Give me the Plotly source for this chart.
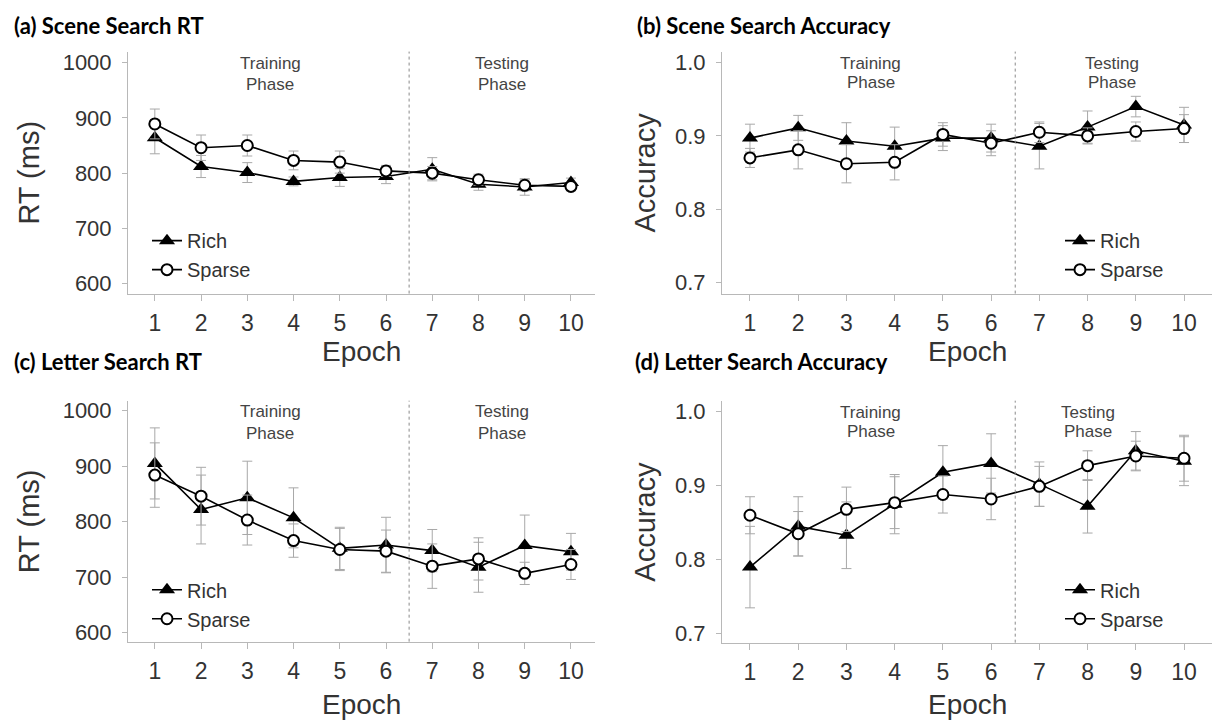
import plotly.graph_objects as go

# ---- data -------------------------------------------------------------
epochs = [1, 2, 3, 4, 5, 6, 7, 8, 9, 10]

scene_rt_rich = [864, 812, 801, 785, 792, 794, 807, 780, 775, 783]
scene_rt_rich_err = [29, 20, 18, 8, 16, 13, 21, 11, 15, 8]
scene_rt_sparse = [889, 846, 850, 823, 820, 804, 800, 788, 778, 776]
scene_rt_sparse_err = [27, 23, 19, 17, 20, 10, 12, 10, 10, 8]

scene_acc_rich = [0.897, 0.911, 0.893, 0.886, 0.897, 0.897, 0.886, 0.912, 0.940, 0.915]
scene_acc_rich_err = [0.019, 0.017, 0.025, 0.026, 0.017, 0.019, 0.031, 0.022, 0.014, 0.024]
scene_acc_sparse = [0.870, 0.881, 0.862, 0.864, 0.902, 0.890, 0.905, 0.900, 0.906, 0.910]
scene_acc_sparse_err = [0.013, 0.026, 0.026, 0.024, 0.016, 0.017, 0.014, 0.011, 0.013, 0.019]

letter_rt_rich = [905, 822, 843, 807, 752, 758, 748, 718, 757, 746]
letter_rt_rich_err = [64, 62, 66, 54, 38, 50, 38, 45, 55, 33]
letter_rt_sparse = [884, 846, 803, 766, 750, 747, 720, 733, 707, 723]
letter_rt_sparse_err = [58, 52, 45, 30, 38, 38, 40, 38, 20, 27]

letter_acc_rich = [0.790, 0.845, 0.833, 0.875, 0.918, 0.930, 0.902, 0.872, 0.947, 0.933]
letter_acc_rich_err = [0.055, 0.040, 0.045, 0.040, 0.036, 0.040, 0.030, 0.036, 0.026, 0.033]
letter_acc_sparse = [0.860, 0.835, 0.868, 0.877, 0.888, 0.882, 0.899, 0.927, 0.940, 0.937]
letter_acc_sparse_err = [0.025, 0.030, 0.030, 0.035, 0.025, 0.028, 0.027, 0.020, 0.020, 0.031]

rt_ticks = [600, 700, 800, 900, 1000]
acc_ticks = [0.7, 0.8, 0.9, 1.0]
panel_titles = ["(a) Scene Search RT", "(b) Scene Search Accuracy",
                "(c) Letter Search RT", "(d) Letter Search Accuracy"]
series_names = ["Rich", "Sparse"]

# ---- page geometry ------------------------------------------------------
W, H = 1212, 725


def px(x):
    return x / W


def py(y):
    return 1 - y / H


AXIS_GREY = "#b8b8b8"
TEXT = "#333333"
FONT = "Liberation Sans"

panels = [
    dict(xd=(128, 595), yd=(50, 294), xr=[0.42, 10.52], yr=[582, 1020], ticks=rt_ticks, fmt="d",
         rich=scene_rt_rich, rich_err=scene_rt_rich_err,
         sparse=scene_rt_sparse, sparse_err=scene_rt_sparse_err,
         ylabel="RT (ms)", ylab_x=29, test_x=8.5, phase_y=(62, 83), leg=(147, 221)),
    dict(xd=(722, 1212), yd=(50, 294), xr=[0.42, 10.58], yr=[0.685, 1.015], ticks=acc_ticks, fmt=".1f",
         rich=scene_acc_rich, rich_err=scene_acc_rich_err,
         sparse=scene_acc_sparse, sparse_err=scene_acc_sparse_err,
         ylabel="Accuracy", ylab_x=645, test_x=8.5, phase_y=(62, 81), leg=(1060, 221)),
    dict(xd=(128, 595), yd=(402, 645), xr=[0.42, 10.52], yr=[584, 1018], ticks=rt_ticks, fmt="d",
         rich=letter_rt_rich, rich_err=letter_rt_rich_err,
         sparse=letter_rt_sparse, sparse_err=letter_rt_sparse_err,
         ylabel="RT (ms)", ylab_x=29, test_x=8.5, phase_y=(413, 435), leg=(147, 573)),
    dict(xd=(722, 1212), yd=(402, 646), xr=[0.42, 10.58], yr=[0.688, 1.0147], ticks=acc_ticks, fmt=".1f",
         rich=letter_acc_rich, rich_err=letter_acc_rich_err,
         sparse=letter_acc_sparse, sparse_err=letter_acc_sparse_err,
         ylabel="Accuracy", ylab_x=645, test_x=8.0, phase_y=(414, 433), leg=(1060, 573)),
]
title_pos = [(12, 24), (635, 24), (12, 362), (633, 362)]
epoch_y = [352, 352, 708, 708]

fig = go.Figure()
layout = dict(
    width=W, height=H,
    margin=dict(l=0, r=0, t=0, b=0),
    paper_bgcolor="white", plot_bgcolor="white",
    font=dict(family=FONT, color=TEXT),
    showlegend=True,
    annotations=[], shapes=[],
)

for i, p in enumerate(panels):
    n = i + 1
    xa = "x" if n == 1 else f"x{n}"
    ya = "y" if n == 1 else f"y{n}"
    leg = "legend" if n == 1 else f"legend{n}"

    err_style = dict(type="data", color="#a8a8a8", thickness=1, width=5, visible=True)

    fig.add_trace(go.Scatter(
        x=epochs, y=p["rich"], name=series_names[0], xaxis=xa, yaxis=ya, legend=leg,
        mode="lines+markers",
        line=dict(color="black", width=1.6),
        marker=dict(symbol="triangle-up", size=14, color="black"),
        error_y=dict(array=p["rich_err"], **err_style),
    ))
    fig.add_trace(go.Scatter(
        x=epochs, y=p["sparse"], name=series_names[1], xaxis=xa, yaxis=ya, legend=leg,
        mode="lines+markers",
        line=dict(color="black", width=1.6),
        marker=dict(symbol="circle", size=11, color="white", line=dict(color="black", width=2)),
        error_y=dict(array=p["sparse_err"], **err_style),
    ))

    axkey_x = "xaxis" if n == 1 else f"xaxis{n}"
    axkey_y = "yaxis" if n == 1 else f"yaxis{n}"
    layout[axkey_x] = dict(
        domain=[px(p["xd"][0]), px(p["xd"][1])], anchor=ya, range=p["xr"],
        tickmode="array", tickvals=epochs, ticktext=[str(e) for e in epochs],
        ticks="outside", ticklen=6, tickcolor=AXIS_GREY, tickwidth=1,
        showline=True, linecolor=AXIS_GREY, linewidth=1,
        showgrid=False, zeroline=False, fixedrange=True,
        tickfont=dict(size=23, color=TEXT, family=FONT), ticklabelstandoff=3,
    )
    layout[axkey_y] = dict(
        domain=[py(p["yd"][1]), py(p["yd"][0])], anchor=xa, range=p["yr"],
        tickmode="array", tickvals=p["ticks"],
        ticktext=[format(t, p["fmt"]) for t in p["ticks"]],
        ticks="outside", ticklen=5, tickcolor=AXIS_GREY, tickwidth=1,
        showline=True, linecolor=AXIS_GREY, linewidth=1,
        showgrid=False, zeroline=False, fixedrange=True,
        tickfont=dict(size=22, color=TEXT, family=FONT), ticklabelstandoff=6,
    )

    # legend inside each panel
    layout[leg] = dict(
        x=px(p["leg"][0]), y=py(p["leg"][1]), xanchor="left", yanchor="top",
        bgcolor="rgba(0,0,0,0)", borderwidth=0,
        font=dict(size=20, color=TEXT, family=FONT),
        itemwidth=30, tracegroupgap=0,
    )

    # phase boundary between epoch 6 and 7
    layout["shapes"].append(dict(
        type="line", xref=xa, yref=f"{ya} domain", x0=6.5, x1=6.5, y0=0, y1=1,
        line=dict(color="#8a8a8a", width=1, dash="3px,3px"),
    ))

    # phase labels
    for label_x, words in ((3.5, ("Training", "Phase")), (p["test_x"], ("Testing", "Phase"))):
        for word, wy in zip(words, p["phase_y"]):
            layout["annotations"].append(dict(
                text=word, xref=xa, yref="paper", x=label_x, y=py(wy),
                xanchor="center", yanchor="middle", showarrow=False,
                font=dict(size=17, color="#444444", family=FONT),
            ))

    # axis titles
    layout["annotations"].append(dict(
        text=p["ylabel"], xref="paper", yref="paper",
        x=px(p["ylab_x"]), y=py((p["yd"][0] + p["yd"][1]) / 2),
        xanchor="center", yanchor="middle", textangle=-90, showarrow=False,
        font=dict(size=29, color=TEXT, family=FONT),
    ))
    layout["annotations"].append(dict(
        text="Epoch", xref="paper", yref="paper",
        x=px((p["xd"][0] + p["xd"][1]) / 2), y=py(epoch_y[i]),
        xanchor="center", yanchor="middle", showarrow=False,
        font=dict(size=28, color=TEXT, family=FONT),
    ))

    # panel title
    tx, ty = title_pos[i]
    layout["annotations"].append(dict(
        text=f"<b>{panel_titles[i]}</b>", xref="paper", yref="paper",
        x=px(tx), y=py(ty), xanchor="left", yanchor="middle", showarrow=False,
        font=dict(size=22, color="black", family="Lato"),
    ))

fig.update_layout(**layout)
fig.write_html("out.html")
